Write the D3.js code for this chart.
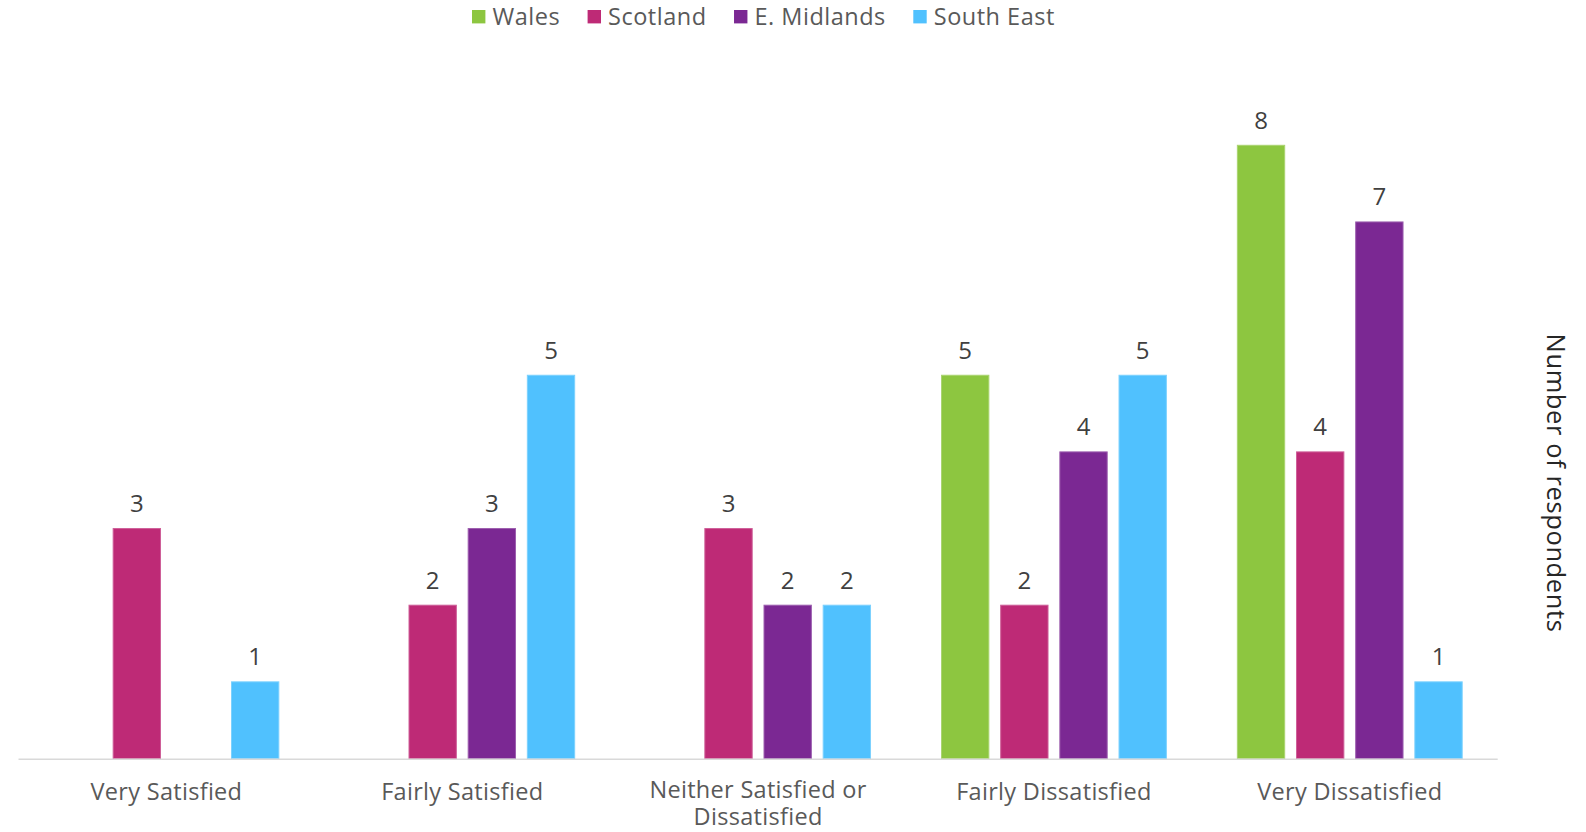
<!DOCTYPE html>
<html>
<head>
<meta charset="utf-8">
<script src="https://cdnjs.cloudflare.com/ajax/libs/d3/7.8.5/d3.min.js"></script>
<style>
  html, body { margin: 0; padding: 0; background: #ffffff; }
  svg { display: block; }
  text { font-family: "Open Sans", Lato, sans-serif; }
</style>
</head>
<body>
<svg id="chart" width="1586" height="832"></svg>
<script>
// Satisfaction responses by region
const categories = [
  ["Very Satisfied"],
  ["Fairly Satisfied"],
  ["Neither Satisfied or", "Dissatisfied"],
  ["Fairly Dissatisfied"],
  ["Very Dissatisfied"]
];
const seriesNames = ["Wales", "Scotland", "E. Midlands", "South East"];
const seriesColors = ["#8dc640", "#be2a76", "#7b2893", "#50c1fe"];
const wales      = [0, 0, 0, 5, 8];
const scotland   = [3, 2, 3, 2, 4];
const eMidlands  = [0, 3, 2, 4, 7];
const southEast  = [1, 5, 2, 5, 1];
const yTicks = [0, 1, 2, 3, 4, 5, 6, 7, 8, 9];
const axisTitle = "Number of respondents";

const seriesValues = [wales, scotland, eMidlands, southEast];

const svg = d3.select("#chart");

const x0 = d3.scaleBand()
  .domain(d3.range(categories.length))
  .range([18.5, 1497.7])
  .paddingInner(0)
  .paddingOuter(0);

const x1 = d3.scaleBand()
  .domain(d3.range(seriesNames.length))
  .range([0, x0.bandwidth()])
  .paddingInner(0.2)
  .paddingOuter(0.6);

const y = d3.scaleLinear()
  .domain([0, d3.max(yTicks)])
  .range([758.5, 758.5 - 9 * 76.65]);

// bars
const groups = svg.append("g").selectAll("g")
  .data(categories)
  .join("g")
  .attr("transform", (d, i) => `translate(${x0(i)},0)`);

const cells = groups.selectAll("g")
  .data((d, i) => seriesValues.map((vals, s) => ({ s, v: vals[i] })))
  .join("g");

cells.filter(d => d.v > 0).append("rect")
  .attr("x", d => x1(d.s))
  .attr("y", d => y(d.v))
  .attr("width", x1.bandwidth())
  .attr("height", d => y(0) - y(d.v))
  .attr("fill", d => seriesColors[d.s])
  .attr("stroke", d => d3.interpolateRgb(seriesColors[d.s], "#ffffff")(0.25))
  .attr("stroke-width", 1);

// value labels
cells.filter(d => d.v > 0).append("text")
  .attr("x", d => x1(d.s) + x1.bandwidth() / 2)
  .attr("y", d => y(d.v) - 16.5)
  .attr("text-anchor", "middle")
  .attr("font-size", 24)
  .attr("fill", "#404040")
  .text(d => d.v);

// category axis line
svg.append("line")
  .attr("x1", x0.range()[0]).attr("x2", x0.range()[1])
  .attr("y1", 759.3).attr("y2", 759.3)
  .attr("stroke", "#d9d9d9")
  .attr("stroke-width", 1.5);

// category labels
const catLabels = svg.append("g").selectAll("text")
  .data(categories)
  .join("text")
  .attr("x", (d, i) => x0(i) + x0.bandwidth() / 2)
  .attr("y", d => d.length > 1 ? 797.5 : 799.5)
  .attr("text-anchor", "middle")
  .attr("font-size", 23.5)
  .attr("letter-spacing", 0.3)
  .attr("fill", "#595959");
catLabels.selectAll("tspan")
  .data(d => d)
  .join("tspan")
  .attr("x", function () { return this.parentNode.getAttribute("x"); })
  .attr("dy", (d, i) => i === 0 ? 0 : 27.5)
  .text(d => d);

// axis title (right side, reading downward)
svg.append("text")
  .attr("transform", "translate(1547,483) rotate(90)")
  .attr("text-anchor", "middle")
  .attr("font-size", 25.5)
  .attr("letter-spacing", 0.6)
  .attr("fill", "#262626")
  .text(axisTitle);

// legend
const legend = svg.append("g");
let lx = 472;
seriesNames.forEach((name, i) => {
  legend.append("rect")
    .attr("x", lx).attr("y", 10)
    .attr("width", 13.4).attr("height", 13.4)
    .attr("fill", seriesColors[i]);
  const t = legend.append("text")
    .attr("x", lx + 20.5).attr("y", 25)
    .attr("font-size", 23.5)
    .attr("letter-spacing", 0.5)
    .attr("fill", "#595959")
    .text(name);
  lx += 20.5 + t.node().getComputedTextLength() + 27.5;
});
</script>
</body>
</html>
